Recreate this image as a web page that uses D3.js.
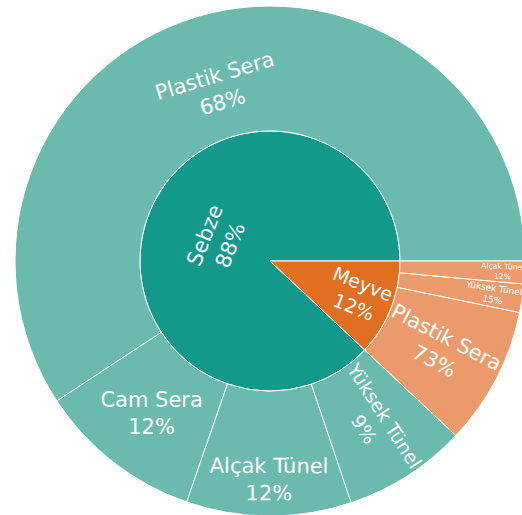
<!DOCTYPE html>
<html>
<head>
<meta charset="utf-8">
<script src="https://cdn.jsdelivr.net/npm/d3@7/dist/d3.min.js"></script>
<style>
  html, body { margin: 0; padding: 0; background: #ffffff; }
  svg { display: block; }
</style>
</head>
<body>
<svg id="chart" width="522" height="515"></svg>
<script>
// Top-level crop groups and their share of the total (%)
const groups = ["Sebze", "Meyve"];
const groupShares = [88, 12];

// Growing method inside each group, as share of the group (%)
const subLabels = [
  ["Plastik Sera", "Cam Sera", "Alçak Tünel", "Yüksek Tünel"],
  ["Plastik Sera", "Yüksek Tünel", "Alçak Tünel"]
];
const subShares = [
  [68, 12, 12, 9],
  [73, 15, 12]
];

const groupColors = ["#13998a", "#e06f21"];
const leafColors = ["#6abbae", "#eb9b6b"];

const W = 522, H = 515;
const cx = 270, cy = 261, R = 255, R_INNER = 130;
const FONT = "'DejaVu Sans', Verdana, sans-serif";
const FONT_SIZE = 21;
const TEXTPAD = 3;

// Hierarchy: leaves carry their absolute share so the rings add up
const tree = {
  name: "root",
  children: groups.map((g, i) => {
    const tot = d3.sum(subShares[i]);
    return {
      name: g, pct: groupShares[i], gi: i,
      children: subLabels[i].map((s, j) => ({
        name: s, pct: subShares[i][j], gi: i,
        value: groupShares[i] * subShares[i][j] / tot
      }))
    };
  })
};

const root = d3.hierarchy(tree).sum(d => d.children ? 0 : d.value);
d3.partition().size([2 * Math.PI, 3])(root);

// x runs counter-clockwise from 3 o'clock; rings start at depth 1
const rScale = d3.scaleLinear().domain([1, 2, 3]).range([0, R_INNER, R]);
const nodes = root.descendants().filter(d => d.depth > 0);

const svg = d3.select("#chart");
svg.append("rect").attr("width", W).attr("height", H).attr("fill", "#fff");
const g = svg.append("g");

const arc = d3.arc()
  .startAngle(d => Math.PI / 2 - d.x1)
  .endAngle(d => Math.PI / 2 - d.x0)
  .innerRadius(d => rScale(d.y0))
  .outerRadius(d => rScale(d.y1));

g.selectAll("path.slice")
  .data(nodes)
  .join("path")
  .attr("class", "slice")
  .attr("transform", `translate(${cx},${cy})`)
  .attr("d", arc)
  .attr("fill", d => d.depth === 1 ? groupColors[d.data.gi] : leafColors[d.data.gi])
  .attr("stroke", "#ffffff")
  .attr("stroke-width", 1);

// ---- label fitting inside each sector ----
function mod(v, d) { const o = v % d; return o < 0 ? o + d : o; }
function angleDelta(a, b) { return mod(b - a + Math.PI, 2 * Math.PI) - Math.PI; }
function calcRotate(t) { return (180 / Math.PI * t + 720) % 180 - 90; }
function calcRCenter(a, b) { return Math.cos(b) - a * b; }
function calcMaxHalfSize(a, halfAngle, r, ring) {
  const q = a + 1 / (2 * Math.tan(halfAngle));
  return r * Math.min(
    1 / (Math.sqrt(q * q + 0.5) + q),
    ring / (Math.sqrt(a * a + ring / 2) + a)
  );
}

function fitText(bb, d) {
  const rpx0 = rScale(d.y0), rpx1 = rScale(d.y1);
  const ring = 1 - rpx0 / rpx1;
  const halfAngle = 0.5 * Math.min(angleDelta(d.x0, d.x1) || Math.PI, Math.PI);
  const full = Math.abs((d.x1 - d.x0) - 2 * Math.PI) < 1e-9;
  const rInscribed = (rpx0 === 0 && full) ? 1 :
    Math.max(0, Math.min(1 / (1 + 1 / Math.sin(halfAngle)), ring / 2));
  const xmid = (d.x0 + d.x1) / 2;
  const midAngle = Math.PI / 2 - xmid;
  const r = rpx1;
  const all = [];

  const diam = Math.sqrt(bb.width * bb.width + bb.height * bb.height);
  const hz = { scale: rInscribed * r * 2 / diam, rCenter: 1 - rInscribed, rotate: 0 };
  if (hz.scale >= 1) return finish(hz);
  all.push(hz);

  const rr = Math.max(0, r - 2 * TEXTPAD);
  let a = bb.width / bb.height;
  let s = calcMaxHalfSize(a, halfAngle, rr, ring);
  all.push({ scale: 2 * s / bb.height, rCenter: calcRCenter(a, s / rr), rotate: calcRotate(midAngle) });

  a = bb.height / bb.width;
  s = calcMaxHalfSize(a, halfAngle, rr, ring);
  all.push({ scale: 2 * s / bb.width, rCenter: calcRCenter(a, s / rr), rotate: calcRotate(midAngle + Math.PI / 2) });

  let best = all[0];
  all.forEach(t => { if (t.scale > best.scale) best = t; });
  return finish(best);

  function finish(t) {
    t.x = cx + rpx1 * Math.cos(xmid) * t.rCenter;
    t.y = cy - rpx1 * Math.sin(xmid) * t.rCenter;
    return t;
  }
}

const labels = g.selectAll("text.lbl")
  .data(nodes)
  .join("text")
  .attr("class", "lbl")
  .attr("text-anchor", "middle")
  .attr("fill", "#ffffff")
  .style("font-family", FONT)
  .style("font-size", FONT_SIZE + "px");

labels.each(function (d) {
  const t = d3.select(this);
  t.append("tspan").attr("x", 0).attr("y", 0).text(d.data.name);
  t.append("tspan").attr("x", 0).attr("dy", "1.3em").text(d.data.pct + "%");
  const bb = this.getBBox();
  const tr = fitText(bb, d);
  const sc = Math.min(1, tr.scale);
  const bx = bb.x + bb.width / 2, by = bb.y + bb.height / 2;
  t.attr("transform",
    `translate(${tr.x},${tr.y}) rotate(${tr.rotate}) scale(${sc}) translate(${-bx},${-by})`);
});
</script>
</body>
</html>
